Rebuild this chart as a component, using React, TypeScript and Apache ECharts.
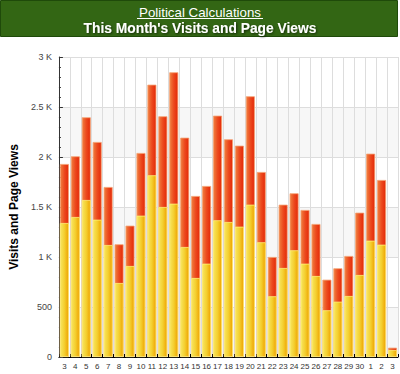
import React, { useEffect, useRef } from "react";
import * as echarts from "echarts";

const days = ["3","4","5","6","7","8","9","10","11","12","13","14","15","16","17","18","19","20","21","22","23","24","25","26","27","28","29","30","1","2","3"];
const visits = [1340,1400,1570,1373,1120,740,910,1413,1817,1500,1533,1100,790,933,1367,1350,1303,1523,1147,607,890,1067,933,810,467,553,610,820,1163,1123,70];
const pageViews = [1930,2007,2397,2150,1700,1127,1313,2040,2723,2407,2847,2193,1610,1710,2413,2177,2113,2607,1850,1000,1523,1637,1470,1330,773,887,1010,1443,2033,1770,93];
const yTicks = [0, 500, 1000, 1500, 2000, 2500, 3000];

const siteTitle = "Political Calculations";
const chartTitle = "This Month's Visits and Page Views";
const yAxisName = "Visits and Page Views";

export default function App() {
  const ref = useRef<HTMLDivElement>(null);
  useEffect(() => {
    if (!ref.current) return;
    const chart = echarts.init(ref.current, null, { renderer: "svg" });
    const yellow = {
      type: "linear", x: 0, y: 0, x2: 1, y2: 0,
      colorStops: [
        { offset: 0, color: "#f7e660" },
        { offset: 0.5, color: "#f4cf30" },
        { offset: 1, color: "#eea200" },
      ],
    };
    const red = {
      type: "linear", x: 0, y: 0, x2: 1, y2: 0,
      colorStops: [
        { offset: 0, color: "#f08040" },
        { offset: 0.5, color: "#ec4a1e" },
        { offset: 1, color: "#e42808" },
      ],
    };
    chart.setOption({
      animation: false,
      graphic: [
        {
          type: "rect",
          shape: { x: 0.5, y: 0.5, width: 397, height: 36 },
          style: { fill: "#336614", stroke: "#1f4a0a", lineWidth: 1 },
          z: 10,
        },
        {
          type: "text",
          x: 200, y: 12,
          style: {
            text: siteTitle, fill: "#ffffff", font: "13.3px 'Liberation Sans', Arial, sans-serif",
            align: "center", verticalAlign: "middle",
          },
          z: 11,
        },
        {
          type: "line",
          shape: { x1: 137, y1: 18.5, x2: 263, y2: 18.5 },
          style: { stroke: "#ffffff", lineWidth: 1 },
          z: 11,
        },
        {
          type: "text",
          x: 200, y: 28,
          style: {
            text: chartTitle, fill: "#ffffff", font: "bold 13.8px 'Liberation Sans', Arial, sans-serif",
            align: "center", verticalAlign: "middle",
            textShadowColor: "rgba(0,0,0,0.6)", textShadowBlur: 2, textShadowOffsetX: 1, textShadowOffsetY: 1,
          },
          z: 11,
        },
      ],
      grid: { left: 47, right: 2, top: 57, bottom: 17, containLabel: false },
      xAxis: {
        type: "category",
        data: days,
        boundaryGap: true,
        axisLine: { show: true, lineStyle: { color: "#000", width: 1 } },
        axisTick: { show: true, inside: true, length: 3, lineStyle: { color: "#000" } },
        axisLabel: { interval: 0, fontSize: 8, color: "#333", margin: 5, fontFamily: "'Liberation Sans', Arial, sans-serif" },
        splitLine: { show: true, interval: 0, lineStyle: { color: "#dddddd", width: 1 } },
      },
      yAxis: {
        type: "value",
        min: yTicks[0],
        max: yTicks[yTicks.length - 1],
        interval: 500,
        name: yAxisName,
        nameLocation: "middle",
        nameGap: 36,
        nameTextStyle: { fontSize: 12, fontWeight: "bold", color: "#000", fontFamily: "'Liberation Sans', Arial, sans-serif" },
        axisLine: { show: true, lineStyle: { color: "#333", width: 1 } },
        axisTick: { show: true, inside: true, length: 4, lineStyle: { color: "#333" } },
        minorTick: { show: true, splitNumber: 5, length: 2, lineStyle: { color: "#333" } },
        axisLabel: {
          fontSize: 9, color: "#444", margin: 7, fontFamily: "'Liberation Sans', Arial, sans-serif",
          formatter: (v: number) => (v >= 1000 ? `${v / 1000} K` : `${v}`),
        },
        splitLine: { show: true, lineStyle: { color: "#dddddd", width: 1 } },
        splitArea: { show: true, areaStyle: { color: ["#f7f7f7", "#ffffff"] } },
      },
      series: [
        {
          name: "Page Views",
          type: "bar",
          data: pageViews,
          barCategoryGap: "18%",
          itemStyle: { color: red as any, borderColor: "#f4a070", borderWidth: 0.8 },
        },
        {
          name: "Visits",
          type: "bar",
          data: visits,
          barGap: "-100%",
          barCategoryGap: "18%",
          itemStyle: { color: yellow as any, borderColor: "#fff27a", borderWidth: 0.8 },
        },
      ],
    });
    return () => chart.dispose();
  }, []);
  return (
    <div
      ref={ref}
      style={{ position: "fixed", left: 0, top: 0, width: 400, height: 374, background: "#fff" }}
    />
  );
}
